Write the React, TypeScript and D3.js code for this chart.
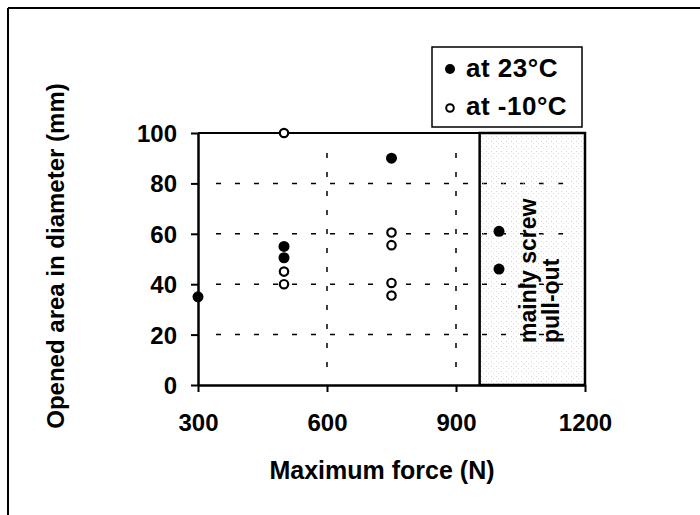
import * as d3 from "d3";
import React, { useRef, useEffect } from "react";

// data
const warmForce = [300, 500, 500, 750, 1000, 1000];
const warmOpen = [35, 55, 50.5, 90, 61, 46];
const coldForce = [500, 500, 500, 750, 750, 750, 750];
const coldOpen = [100, 45, 40, 60.5, 55.5, 40.5, 35.5];
const xTicks = [300, 600, 900, 1200];
const yTicks = [0, 20, 40, 60, 80, 100];
const gridY = [20, 40, 60, 80];
const gridX = [600, 900];
const pullOutFrom = 955;

function App() {
    const svgRef = useRef<SVGSVGElement>(null);
    const width = 700;
    const height = 515;
    const font = "'Liberation Sans', Arial, sans-serif";

    useEffect(() => {
        const svg = d3.select(svgRef.current);
        svg.selectAll("*").remove();

        const x = d3.scaleLinear().domain([300, 1200]).range([198, 585]);
        const y = d3.scaleLinear().domain([0, 100]).range([385, 133]);

        // outer frame (only top and left show)
        svg.append("line").attr("x1", 8).attr("x2", 700).attr("y1", 8).attr("y2", 8)
            .attr("stroke", "#000").attr("stroke-width", 2);
        svg.append("line").attr("x1", 8).attr("x2", 8).attr("y1", 8).attr("y2", 515)
            .attr("stroke", "#000").attr("stroke-width", 2);

        // stipple pattern for the pull-out zone
        const defs = svg.append("defs");
        const pat = defs.append("pattern").attr("id", "stip")
            .attr("width", 5).attr("height", 5).attr("patternUnits", "userSpaceOnUse");
        pat.append("rect").attr("x", 1).attr("y", 1).attr("width", 1).attr("height", 1).attr("fill", "#bbb");
        pat.append("rect").attr("x", 3).attr("y", 3).attr("width", 1).attr("height", 1).attr("fill", "#ccc");

        // grid
        svg.append("g").selectAll("line").data(gridY).enter().append("line")
            .attr("x1", x(300) + 18).attr("x2", x(1200) - 8)
            .attr("y1", d => y(d)).attr("y2", d => y(d))
            .attr("stroke", "#000").attr("stroke-width", 1.5).attr("stroke-dasharray", "5,14");
        svg.append("g").selectAll("line").data(gridX).enter().append("line")
            .attr("x1", d => x(d)).attr("x2", d => x(d))
            .attr("y1", y(100) + 20).attr("y2", y(0) - 15)
            .attr("stroke", "#000").attr("stroke-width", 1.5).attr("stroke-dasharray", "5,14");

        // pull-out zone
        svg.append("rect")
            .attr("x", x(pullOutFrom)).attr("y", y(100))
            .attr("width", x(1200) - x(pullOutFrom)).attr("height", y(0) - y(100))
            .attr("fill", "url(#stip)").attr("fill-opacity", 0.6)
            .attr("stroke", "#000").attr("stroke-width", 2.5);

        // top border of plot
        svg.append("line").attr("x1", x(300)).attr("x2", x(1200)).attr("y1", y(100)).attr("y2", y(100))
            .attr("stroke", "#000").attr("stroke-width", 2);

        // axes
        const gx = svg.append("g").attr("transform", `translate(0, ${y(0)})`)
            .call(d3.axisBottom(x).tickValues(xTicks).tickFormat(d3.format("d"))
                .tickSize(7).tickPadding(22).tickSizeOuter(0));
        gx.select(".domain").attr("stroke-width", 2.5);
        gx.selectAll(".tick line").attr("stroke-width", 2);
        gx.selectAll("text").style("font-family", font).style("font-weight", "bold")
            .style("font-size", "24px").attr("fill", "#000");

        const gy = svg.append("g").attr("transform", `translate(${x(300)}, 0)`)
            .call(d3.axisLeft(y).tickValues(yTicks).tickSize(7).tickPadding(14).tickSizeOuter(0));
        gy.select(".domain").attr("stroke-width", 2.5);
        gy.selectAll(".tick line").attr("stroke-width", 2);
        gy.selectAll("text").style("font-family", font).style("font-weight", "bold")
            .style("font-size", "24px").attr("fill", "#000").attr("dy", "0.35em");

        // points
        svg.append("g").selectAll("circle").data(warmForce).enter().append("circle")
            .attr("cx", d => x(d)).attr("cy", (d, i) => y(warmOpen[i]))
            .attr("r", 5.5).attr("fill", "#000");
        svg.append("g").selectAll("circle").data(coldForce).enter().append("circle")
            .attr("cx", d => x(d)).attr("cy", (d, i) => y(coldOpen[i]))
            .attr("r", 4.2).attr("fill", "#fff").attr("stroke", "#000").attr("stroke-width", 2.2);

        // zone label
        const lab = svg.append("text")
            .attr("transform", `translate(536, 343) rotate(-90)`)
            .attr("text-anchor", "start")
            .style("font-family", font).style("font-weight", "bold").style("font-size", "23px");
        lab.append("tspan").attr("x", 0).attr("y", 0).text("mainly screw");
        lab.append("tspan").attr("x", 0).attr("y", 23).text("pull-out");

        // legend
        svg.append("rect").attr("x", 432).attr("y", 47).attr("width", 150).attr("height", 80)
            .attr("fill", "#fff").attr("stroke", "#000").attr("stroke-width", 1.5);
        svg.append("circle").attr("cx", 450).attr("cy", 69).attr("r", 5).attr("fill", "#000");
        svg.append("circle").attr("cx", 450).attr("cy", 108).attr("r", 3.8).attr("fill", "#fff")
            .attr("stroke", "#000").attr("stroke-width", 2);
        svg.append("text").text("at 23°C").attr("x", 466).attr("y", 77)
            .style("font-family", font).style("font-weight", "bold").style("font-size", "26px")
            .style("letter-spacing", "0.5px");
        svg.append("text").text("at -10°C").attr("x", 466).attr("y", 115)
            .style("font-family", font).style("font-weight", "bold").style("font-size", "26px")
            .style("letter-spacing", "0.5px");

        // axis titles
        svg.append("text").text("Maximum force (N)")
            .attr("x", 382).attr("y", 479).attr("text-anchor", "middle")
            .style("font-family", font).style("font-weight", "bold").style("font-size", "25px");
        svg.append("text").text("Opened area in diameter (mm)")
            .attr("transform", `translate(64, 256) rotate(-90)`).attr("text-anchor", "middle")
            .style("font-family", font).style("font-weight", "bold").style("font-size", "24px");
    }, []);

    return (
        <svg ref={svgRef} width={width} height={height}
            style={{ position: "absolute", left: 0, top: 0, background: "#fff" }}>
        </svg>
    );
}

export default App;
